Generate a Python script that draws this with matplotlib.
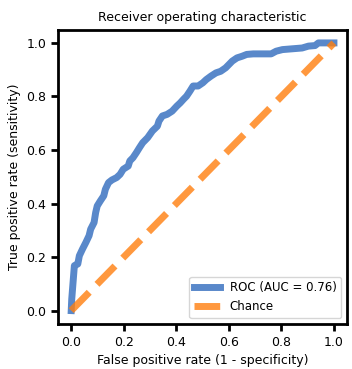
import numpy as np
import matplotlib.pyplot as plt

# ROC curve points
fpr = [0.0, 0.002, 0.006, 0.012, 0.025, 0.031, 0.043, 0.056, 0.068, 0.074, 0.087,
       0.093, 0.099, 0.111, 0.124, 0.130, 0.142, 0.155, 0.173, 0.186, 0.198, 0.217,
       0.223, 0.235, 0.248, 0.260, 0.272, 0.291, 0.309, 0.328, 0.334, 0.347, 0.365,
       0.384, 0.402, 0.415, 0.427, 0.439, 0.452, 0.464, 0.483, 0.501, 0.514, 0.532,
       0.551, 0.569, 0.588, 0.600, 0.613, 0.631, 0.650, 0.668, 0.693, 0.761, 0.780,
       0.804, 0.879, 0.903, 0.928, 0.941, 1.0]
tpr = [0.0, 0.043, 0.093, 0.168, 0.174, 0.205, 0.230, 0.255, 0.280, 0.304, 0.329,
       0.366, 0.391, 0.410, 0.429, 0.453, 0.478, 0.488, 0.497, 0.509, 0.528, 0.540,
       0.559, 0.571, 0.590, 0.609, 0.627, 0.646, 0.671, 0.689, 0.708, 0.727, 0.733,
       0.745, 0.764, 0.776, 0.789, 0.801, 0.820, 0.839, 0.839, 0.851, 0.863, 0.876,
       0.888, 0.894, 0.907, 0.919, 0.932, 0.944, 0.950, 0.957, 0.959, 0.959, 0.969,
       0.975, 0.981, 0.988, 0.990, 1.0, 1.0]
chance = [0, 1]
auc = 0.76

plt.rcParams['font.size'] = 9
fig, ax = plt.subplots(figsize=(3.52, 3.69), dpi=100)
ax.plot(fpr, tpr, lw=5, alpha=0.8, color='#2f6bbd', label=f'ROC (AUC = {auc:.2f})')
ax.plot(chance, chance, lw=5, ls='--', alpha=0.8, color='tab:orange', label='Chance')
ax.set_xlim(-0.05, 1.05)
ax.set_ylim(-0.05, 1.05)
ax.set_xticks(np.arange(0, 1.01, 0.2))
ax.set_yticks(np.arange(0, 1.01, 0.2))
for s in ax.spines.values():
    s.set_linewidth(2)
ax.tick_params(width=2, length=5)
ax.set_xlabel('False positive rate (1 - specificity)')
ax.set_ylabel('True positive rate (sensitivity)')
ax.set_title('Receiver operating characteristic', fontsize=9)
ax.legend(loc='lower right', fontsize=8.5, handlelength=2.2)
fig.subplots_adjust(left=0.165, right=0.986, bottom=0.122, top=0.92)
fig.savefig('out.png')
